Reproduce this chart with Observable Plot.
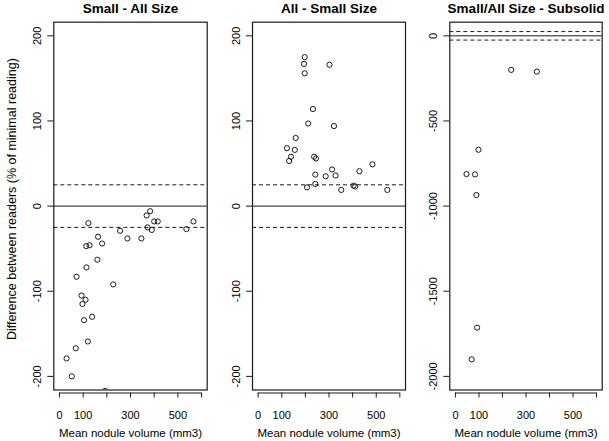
<!DOCTYPE html>
<html><head><meta charset="utf-8">
<script src="https://cdn.jsdelivr.net/npm/d3@7"></script>
<script src="https://cdn.jsdelivr.net/npm/@observablehq/plot@0.6"></script>
<style>
html,body{margin:0;padding:0;background:#fff;overflow:hidden}
#chart{position:relative;width:609px;height:441px;font-family:"Liberation Sans",Arial,sans-serif}
#chart svg{position:absolute;top:0;overflow:visible}
</style></head><body><div id="chart"></div>
<script>
// Panel titles
const panelTitles = ["Small - All Size", "All - Small Size", "Small/All Size - Subsolid"];
const xTitle = "Mean nodule volume (mm3)";
const yTitle = "Difference between readers (% of minimal reading)";

// Axis ticks
const xTicks = [0, 100, 200, 300, 400, 500, 600];
const xTickLabels = [0, 100, 300, 500];
const yTicksSmall = [-200, -100, 0, 100, 200];
const yTicksSubsolid = [-2000, -1500, -1000, -500, 0];
const limitLines = [-25, 25];

// Panel 1: Small - All Size
const p1Volume = [30, 52, 69, 72, 93, 97, 110, 104, 114, 113, 127, 122, 120, 138, 160, 163, 180, 227, 256, 287, 346, 368, 383, 372, 390, 400, 415, 536, 566, 193];
const p1Diff   = [-179, -200, -167, -83, -105, -115, -110, -134, -72, -47, -46, -20, -159, -130, -63, -36, -44, -92, -29, -38, -38, -11, -6, -25, -28, -18, -18, -27, -18, -217];

// Panel 2: All - Small Size
const p2Volume = [197, 194, 197, 302, 232, 212, 321, 159, 122, 155, 139, 131, 237, 245, 242, 313, 286, 328, 484, 429, 207, 242, 352, 404, 411, 547];
const p2Diff   = [175, 167, 156, 166, 114, 97, 94, 80, 68, 66, 58, 53, 58, 56, 37, 43, 35, 36, 49, 41, 22, 26, 19, 24, 23, 19];

// Panel 3: Small/All Size - Subsolid
const p3Volume = [237, 346, 98, 47, 83, 89, 92, 69];
const p3Diff   = [-200, -210, -669, -812, -814, -935, -1714, -1900];

const ink = "#1a1a1a";
const font = "'Liberation Sans', Arial, Helvetica, sans-serif";

function panel({title, xs, ys, yDomain, yTicks, left, width, marginLeft, marginRight, showYTitle}) {
  const data = xs.map((x, i) => ({x, y: ys[i]}));
  const marks = [
    Plot.ruleY(limitLines, {stroke: ink, strokeWidth: 1, strokeDasharray: "4,3"}),
    Plot.ruleY([0], {stroke: ink, strokeWidth: 1}),
    Plot.dot(data, {x: "x", y: "y", r: 2.6, stroke: ink, strokeWidth: 1, fill: "none", clip: true}),
    Plot.frame({stroke: ink, strokeWidth: 1.2}),
    Plot.axisY({ticks: yTicks, tickSize: 6, tickPadding: 7, tickRotate: -90, tickFormat: d => String(d), label: null, fontSize: 11, stroke: ink}),
    Plot.axisX({ticks: xTicks, tickSize: 5, tickPadding: 13, dy: 3, tickFormat: d => xTickLabels.includes(d) ? String(d) : "", label: null, fontSize: 11, stroke: ink}),
    Plot.ruleY([yDomain[0]], {x1: xTicks[0], x2: xTicks[xTicks.length - 1], dy: 3, stroke: ink}),
    Plot.text([title], {frameAnchor: "top", dy: -8.9, lineAnchor: "bottom", fontWeight: "bold", fontSize: 13.5, fill: "#000"}),
    Plot.text([xTitle], {frameAnchor: "bottom", dy: 47, lineAnchor: "bottom", fontSize: 11.5, fill: "#000"})
  ];
  if (showYTitle) {
    marks.push(Plot.text([yTitle], {frameAnchor: "left", dx: -42, dy: -7, rotate: -90, textAnchor: "middle", lineAnchor: "middle", fontSize: 12.5, fill: "#000"}));
  }
  const svg = Plot.plot({
    width, height: 441,
    marginTop: 21.7, marginBottom: 441 - 389.5,
    marginLeft, marginRight,
    x: {domain: [-24, 624]},
    y: {domain: yDomain},
    style: {fontFamily: font, fontSize: "11px", color: "#000", background: "none", overflow: "visible"},
    marks
  });
  svg.style.left = left + "px";
  document.getElementById("chart").appendChild(svg);
}

panel({title: panelTitles[0], xs: p1Volume, ys: p1Diff, yDomain: [-216, 216], yTicks: yTicksSmall, left: 0, width: 210, marginLeft: 53.3, marginRight: 3.3, showYTitle: true});
panel({title: panelTitles[1], xs: p2Volume, ys: p2Diff, yDomain: [-216, 216], yTicks: yTicksSmall, left: 210, width: 198, marginLeft: 42, marginRight: 3, showYTitle: false});
panel({title: panelTitles[2], xs: p3Volume, ys: p3Diff, yDomain: [-2080, 80], yTicks: yTicksSubsolid, left: 408, width: 201, marginLeft: 41.3, marginRight: 7.3, showYTitle: false});
</script>
</body></html>
